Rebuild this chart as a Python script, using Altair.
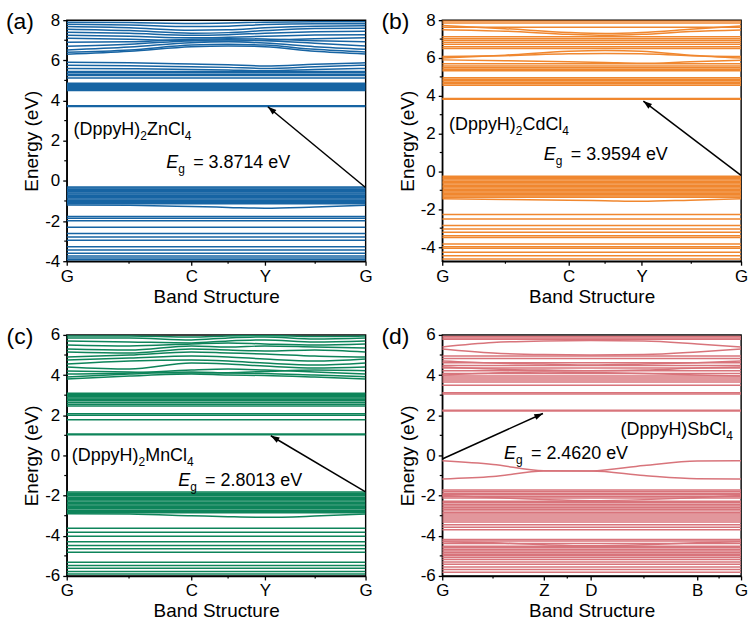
import math
import altair as alt
import pandas as pd

FONT = "Liberation Sans"
W, H = 300, 242

# ---------------- (a) (DppyH)2ZnCl4 ----------------
TICKS_A = [0.0, 0.417, 0.663, 1.0]
NAMES_A = ["G", "C", "Y", "G"]
KNOTS_A = [0.0, 0.21, 0.417, 0.54, 0.663, 0.83, 1.0]
YDOM_A = [-4, 8]
YTICKS_A = [-4, -2, 0, 2, 4, 6, 8]
YMINOR_A = [-3, -1, 1, 3, 5, 7]
FLAT_A = [5.45, 5.38, 5.30, 5.24, 5.12, 4.86, 4.80, 4.75, 4.70, 4.65, 4.60,
          4.55, 4.50, 3.74, 3.70, -0.30, -0.36, -0.42, -0.48, -0.54, -0.60,
          -0.66, -0.72, -0.78, -0.84, -0.90, -0.96, -1.02, -1.08, -1.14,
          -1.77, -1.86, -1.98, -2.31, -2.62, -2.80, -2.96, -3.28, -3.44,
          -3.60, -3.74, -3.84, -3.93]
DISP_A = [
    [6.30, 6.45, 6.68, 6.72, 6.68, 6.45, 6.32],
    [6.40, 6.52, 6.76, 6.80, 6.76, 6.55, 6.42],
    [6.52, 6.66, 6.88, 6.92, 6.86, 6.68, 6.55],
    [6.70, 6.80, 6.98, 7.02, 6.98, 6.85, 6.72],
    [6.90, 6.92, 7.05, 7.08, 7.06, 6.98, 6.92],
    [7.10, 7.05, 6.98, 6.96, 7.00, 7.08, 7.12],
    [7.25, 7.20, 7.12, 7.15, 7.20, 7.26, 7.28],
    [7.40, 7.35, 7.25, 7.28, 7.35, 7.42, 7.45],
    [7.55, 7.48, 7.35, 7.38, 7.48, 7.58, 7.60],
    [7.68, 7.62, 7.50, 7.52, 7.62, 7.70, 7.72],
    [7.80, 7.76, 7.68, 7.70, 7.78, 7.82, 7.82],
    [7.90, 7.88, 7.84, 7.86, 7.90, 7.92, 7.92],
    [5.90, 5.88, 5.82, 5.78, 5.72, 5.80, 5.88],
    [5.76, 5.73, 5.68, 5.65, 5.60, 5.68, 5.76],
    [5.60, 5.58, 5.55, 5.52, 5.48, 5.54, 5.60],
    [-1.20, -1.22, -1.28, -1.32, -1.36, -1.30, -1.22],
]
ARROW_A = [1.0, -0.33, 0.673, 3.69]
GAP_A = "3.8714"

# ---------------- (b) (DppyH)2CdCl4 ----------------
TICKS_B = [0.0, 0.423, 0.667, 1.0]
NAMES_B = ["G", "C", "Y", "G"]
KNOTS_B = [0.0, 0.21, 0.423, 0.545, 0.667, 0.83, 1.0]
YDOM_B = [-4.75, 8]
YTICKS_B = [-4, -2, 0, 2, 4, 6, 8]
YMINOR_B = [-3, -1, 1, 3, 5, 7]
FLAT_B = [7.95, 7.85, 7.62, 7.12, 7.02, 6.92, 6.82, 6.72, 6.60, 6.50, 5.70,
          5.58, 5.48, 5.40, 5.32, 4.96, 4.88, 4.80, 4.72, 4.64, 4.56, 3.86,
          3.82, -0.25, -0.32, -0.39, -0.46, -0.53, -0.60, -0.67, -0.74, -0.81,
          -0.88, -0.95, -1.02, -1.09, -1.16, -1.23, -1.30, -1.37, -2.28, -2.52,
          -2.86, -3.05, -3.22, -3.40, -3.50, -3.84, -3.98, -4.06, -4.28, -4.46,
          -4.63]
DISP_B = [
    [6.00, 6.15, 6.36, 6.40, 6.36, 6.15, 6.00],
    [6.08, 6.12, 6.22, 6.24, 6.22, 6.12, 6.08],
    [7.72, 7.55, 7.35, 7.30, 7.35, 7.52, 7.70],
    [7.50, 7.42, 7.25, 7.20, 7.25, 7.40, 7.48],
    [5.90, 5.86, 5.80, 5.76, 5.72, 5.80, 5.88],
    [-1.45, -1.48, -1.52, -1.55, -1.58, -1.52, -1.45],
]
ARROW_B = [1.0, -0.21, 0.673, 3.72]
GAP_B = "3.9594"

# ---------------- (c) (DppyH)2MnCl4 ----------------
TICKS_C = [0.0, 0.417, 0.663, 1.0]
NAMES_C = ["G", "C", "Y", "G"]
KNOTS_C = [0.0, 0.21, 0.417, 0.54, 0.663, 0.83, 1.0]
YDOM_C = [-6, 6]
YTICKS_C = [-6, -4, -2, 0, 2, 4, 6]
YMINOR_C = [-5, -3, -1, 1, 3, 5]
FLAT_C = [3.10, 3.04, 2.98, 2.92, 2.86, 2.80, 2.72, 2.64, 2.55, 2.46, 2.08,
          2.00, 1.78, 1.07, 1.03, -1.82, -1.88, -1.95, -2.01, -2.08, -2.14,
          -2.21, -2.27, -2.34, -2.40, -2.47, -2.53, -2.60, -2.66, -2.73, -2.79,
          -2.85, -3.62, -3.82, -4.02, -4.30, -4.48, -4.65, -4.82, -5.32, -5.48,
          -5.62, -5.78, -5.90]
DISP_C = [
    [3.80, 3.95, 4.05, 4.00, 3.98, 3.90, 3.80],
    [3.90, 4.05, 4.15, 4.10, 4.08, 4.00, 3.92],
    [4.05, 4.10, 4.25, 4.30, 4.25, 4.15, 4.05],
    [4.20, 4.15, 4.10, 4.12, 4.18, 4.25, 4.22],
    [4.40, 4.30, 4.60, 4.55, 4.45, 4.35, 4.40],
    [4.55, 4.70, 4.75, 4.70, 4.60, 4.50, 4.60],
    [4.75, 4.85, 4.95, 4.90, 4.80, 4.70, 4.80],
    [4.90, 5.00, 5.15, 5.10, 5.05, 4.95, 4.90],
    [5.15, 5.10, 5.30, 5.25, 5.20, 5.25, 5.15],
    [5.30, 5.25, 5.45, 5.40, 5.45, 5.40, 5.35],
    [5.50, 5.45, 5.55, 5.60, 5.55, 5.50, 5.55],
    [5.70, 5.65, 5.60, 5.70, 5.75, 5.65, 5.70],
    [5.85, 5.85, 5.75, 5.85, 5.90, 5.80, 5.85],
    [5.95, 5.95, 5.90, 5.95, 5.97, 5.92, 5.95],
    [-2.90, -2.92, -3.00, -3.05, -3.08, -3.02, -2.92],
]
ARROW_C = [1.0, -1.81, 0.683, 0.98]
GAP_C = "2.8013"

# ---------------- (d) (DppyH)SbCl4 ----------------
TICKS_D = [0.0, 0.34, 0.497, 0.853, 1.0]
NAMES_D = ["G", "Z", "D", "B", "G"]
KNOTS_D = [0.0, 0.17, 0.34, 0.497, 0.675, 0.853, 1.0]
YDOM_D = [-6, 6]
YTICKS_D = [-6, -4, -2, 0, 2, 4, 6]
YMINOR_D = [-5, -3, -1, 1, 3, 5]
FLAT_D = [5.92, 5.85, 5.78, 4.95, 4.82, 4.62, 4.48, 4.35, 4.22, 4.08, 3.95,
          3.85, 3.75, 3.66, 3.50, 3.12, 3.06, 2.25, 2.21, -1.72, -1.80, -1.88,
          -1.96, -2.04, -2.12, -2.28, -2.36, -2.44, -2.52, -2.60, -2.68, -2.76,
          -2.84, -2.92, -3.02, -3.12, -3.22, -3.32, -3.45, -3.58, -3.70, -4.18,
          -4.26, -4.38, -4.52, -4.60, -4.68, -4.76, -4.84, -4.92, -5.00, -5.08,
          -5.18, -5.30, -5.42, -5.55, -5.68, -5.82]
DISP_D = [
    [5.40, 5.62, 5.70, 5.72, 5.70, 5.55, 5.40],
    [5.30, 5.10, 5.02, 5.00, 5.02, 5.15, 5.30],
    [4.70, 4.60, 4.55, 4.50, 4.55, 4.62, 4.70],
    [4.40, 4.30, 4.25, 4.22, 4.25, 4.35, 4.40],
    [4.00, 4.10, 4.15, 4.12, 4.08, 4.00, 3.95],
    [-0.27, -0.45, -0.76, -0.77, -0.50, -0.28, -0.27],
    [-1.17, -1.05, -0.78, -0.78, -1.00, -1.16, -1.17],
    [-2.00, -2.10, -2.20, -2.25, -2.20, -2.10, -2.00],
    [-4.30, -4.35, -4.45, -4.50, -4.45, -4.35, -4.30],
]
ARROW_D = [0.0, -0.18, 0.337, 2.09]
GAP_D = "2.4620"

COLORS = {"a": "#1764a3", "b": "#f0872f", "c": "#0e845a", "d": "#d8747b"}

# Arial/Liberation Sans advance widths (em) for the glyphs used in labels
GLYPH = {"(": 0.333, ")": 0.333, "D": 0.722, "p": 0.556, "y": 0.5, "H": 0.722,
         "Z": 0.611, "n": 0.556, "C": 0.722, "l": 0.222, "d": 0.556,
         "M": 0.833, "S": 0.667, "b": 0.556}


def part_width(s, size=18):
    return sum(GLYPH.get(ch, 0.556) for ch in s) * size


def band_frame(flat, disp, knots):
    rows = []
    for i, e in enumerate(flat):
        rows.append({"k": 0.0, "E": e, "band": f"f{i}"})
        rows.append({"k": 1.0, "E": e, "band": f"f{i}"})
    for j, vals in enumerate(disp):
        for k, e in zip(knots, vals):
            rows.append({"k": k, "E": e, "band": f"d{j}"})
    return pd.DataFrame(rows)


def label_expr(ticks, names):
    expr = f"'{names[-1]}'"
    for v, n in reversed(list(zip(ticks[:-1], names[:-1]))):
        expr = f"abs(datum.value - {v}) < 1e-6 ? '{n}' : " + expr
    return expr


def panel(letter, ticks, names, knots, ydom, yticks, yminor, flat, disp,
          arrow, gap, formula, fpos, gpos):
    xs = alt.Scale(domain=[0, 1], nice=False, zero=False)
    ys = alt.Scale(domain=ydom, nice=False, zero=False)
    xaxis = alt.Axis(values=ticks, labelExpr=label_expr(ticks, names),
                     title="Band Structure", tickSize=4, labelFlush=False,
                     labelOverlap=False, grid=False, labelPadding=3,
                     titlePadding=3)
    yaxis = alt.Axis(values=yticks, labelExpr="'' + datum.value",
                     title="Energy (eV)", tickSize=4, grid=False,
                     labelPadding=3, titlePadding=3)

    def X(field):
        return alt.X(field, scale=xs, axis=xaxis)

    def Y(field):
        return alt.Y(field, scale=ys, axis=yaxis)

    bands = alt.Chart(band_frame(flat, disp, knots)).mark_line(
        color=COLORS[letter], strokeWidth=1.5, interpolate="monotone", clip=True
    ).encode(x=X("k:Q"), y=Y("E:Q"), detail="band:N", order="k:Q")

    # minor ticks halfway between labelled ones
    xmid = [(a + b) / 2 for a, b in zip(ticks[:-1], ticks[1:])]
    xminor = alt.Chart(pd.DataFrame({"k": xmid})).mark_rule(
        color="black", strokeWidth=1.2
    ).encode(x=X("k:Q"), y=alt.value(H), y2=alt.value(H + 2.5))
    yminor_l = alt.Chart(pd.DataFrame({"E": yminor})).mark_rule(
        color="black", strokeWidth=1.2
    ).encode(y=Y("E:Q"), x=alt.value(-2.5), x2=alt.value(0))

    # gap arrow: shaft plus a head rotated along the shaft
    x0, y0, x1, y1 = arrow
    span = ydom[1] - ydom[0]
    dxp = (x1 - x0) * W
    dyp = (y1 - y0) * H / span
    ang = math.degrees(math.atan2(dxp, dyp)) % 360
    adf = pd.DataFrame({"k": [x0], "E": [y0], "k2": [x1], "E2": [y1]})
    shaft = alt.Chart(adf).mark_rule(color="black", strokeWidth=1.5).encode(
        x=X("k:Q"), y=Y("E:Q"), x2="k2:Q", y2="E2:Q")
    head = alt.Chart(adf).mark_point(
        shape="M0,0L-0.35,1L0.35,1Z", filled=True, color="black", opacity=1,
        size=300, angle=ang
    ).encode(x=X("k2:Q"), y=Y("E2:Q"))

    layers = [bands, xminor, yminor_l, shaft, head]

    def add_text(x, y, text, dx=0, dy=0, size=18, style="normal"):
        df = pd.DataFrame({"k": [x], "E": [y], "t": [text]})
        layers.append(alt.Chart(df).mark_text(
            align="left", baseline="alphabetic", font=FONT, fontSize=size,
            fontStyle=style, color="black", dx=dx, dy=dy
        ).encode(x=X("k:Q"), y=Y("E:Q"), text="t:N"))

    # compound name with subscripts
    fx, fy = fpos
    off = 0
    for part, sub in formula:
        if sub:
            add_text(fx, fy, part, dx=off, dy=5, size=12)
            off += 6.7 * len(part)
        else:
            add_text(fx, fy, part, dx=off)
            off += part_width(part)

    # band-gap label: E_g = ...
    gx, gy = gpos
    add_text(gx, gy, "E", style="italic")
    add_text(gx, gy, "g", dx=12, dy=5, size=12)
    add_text(gx, gy, f"= {gap} eV", dx=27)

    lab = alt.Chart(pd.DataFrame({"t": [f"({letter})"]})).mark_text(
        font=FONT, fontSize=23, color="black", align="center", baseline="middle"
    ).encode(text="t:N", x=alt.value(-47), y=alt.value(2))
    layers.append(lab)

    return alt.layer(*layers).properties(width=W, height=H)


pa = panel("a", TICKS_A, NAMES_A, KNOTS_A, YDOM_A, YTICKS_A, YMINOR_A, FLAT_A,
           DISP_A, ARROW_A, GAP_A,
           [("(DppyH)", False), ("2", True), ("ZnCl", False), ("4", True)],
           (0.023, 2.30), (0.333, 0.66))
pb = panel("b", TICKS_B, NAMES_B, KNOTS_B, YDOM_B, YTICKS_B, YMINOR_B, FLAT_B,
           DISP_B, ARROW_B, GAP_B,
           [("(DppyH)", False), ("2", True), ("CdCl", False), ("4", True)],
           (0.023, 2.20), (0.34, 0.58))
pc = panel("c", TICKS_C, NAMES_C, KNOTS_C, YDOM_C, YTICKS_C, YMINOR_C, FLAT_C,
           DISP_C, ARROW_C, GAP_C,
           [("(DppyH)", False), ("2", True), ("MnCl", False), ("4", True)],
           (0.017, -0.30), (0.373, -1.51))
pd_ = panel("d", TICKS_D, NAMES_D, KNOTS_D, YDOM_D, YTICKS_D, YMINOR_D, FLAT_D,
            DISP_D, ARROW_D, GAP_D,
            [("(DppyH)SbCl", False), ("4", True)],
            (0.597, 1.0), (0.207, -0.19))

chart = alt.concat(
    pa, pb, pc, pd_, columns=2, spacing={"row": 74, "column": 77},
    bounds="flush"
).properties(
    padding={"left": 5, "top": 9, "right": 2, "bottom": 5}
).configure_axis(
    domainColor="black", domainWidth=1.4, tickColor="black", tickWidth=1.3,
    labelColor="black", titleColor="black", labelFont=FONT, titleFont=FONT,
    labelFontSize=17, titleFontSize=19, titleFontWeight="normal",
).configure_view(stroke="black", strokeWidth=1.4)

chart.save("out.html", embed_options={"renderer": "svg", "actions": False})
